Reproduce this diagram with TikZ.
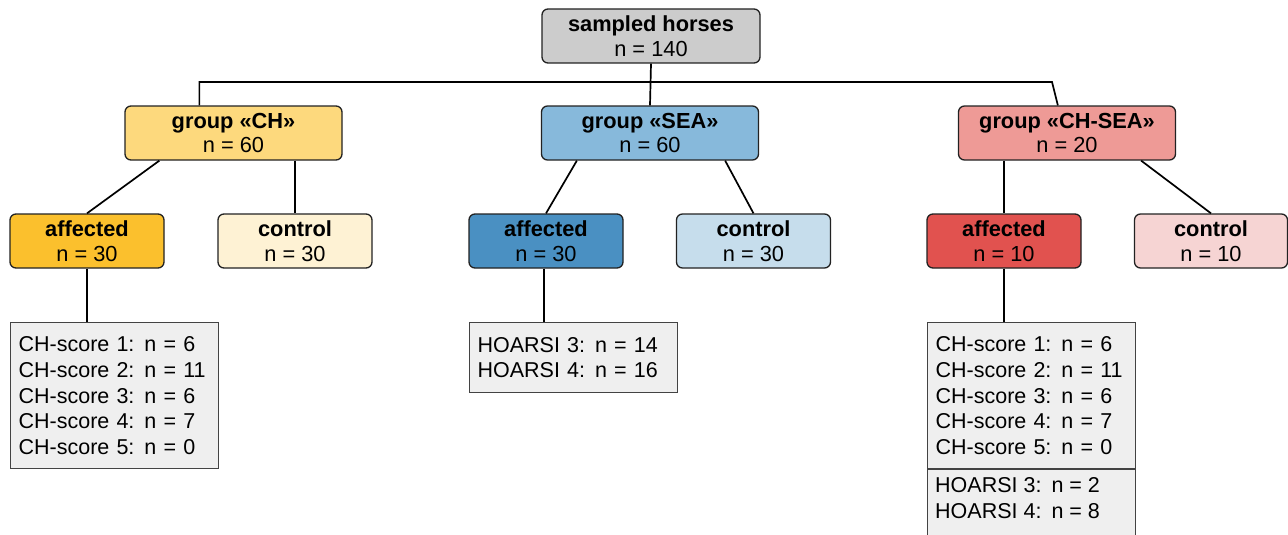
\documentclass[tikz,border=0pt]{standalone}
\usepackage{fontspec}
\setmainfont{Liberation Sans}
\definecolor{cgray}{HTML}{CCCCCC}
\definecolor{cchg}{HTML}{FDD97D}
\definecolor{ccha}{HTML}{FBC02D}
\definecolor{cchc}{HTML}{FEF2D4}
\definecolor{cseag}{HTML}{87B9DB}
\definecolor{cseaa}{HTML}{4A90C2}
\definecolor{cseac}{HTML}{C6DDEC}
\definecolor{cbothg}{HTML}{EE9A96}
\definecolor{cbotha}{HTML}{E1524F}
\definecolor{cbothc}{HTML}{F6D4D3}
\definecolor{clist}{HTML}{EFEFEF}
\definecolor{cedge}{HTML}{222222}
\newcommand{\gp}{\hspace{10pt}}
\begin{document}
\begin{tikzpicture}[x=1pt,y=-1pt,
  hbox/.style={draw=cedge, line width=1.3pt, rounded corners=6pt, minimum height=54pt,
    inner sep=0pt, align=center, font=\fontsize{21.8}{24.5}\selectfont},
  wide/.style={hbox, minimum width=217pt},
  narrow/.style={hbox, minimum width=154pt},
  listbox/.style={draw=cedge!85, line width=1.2pt, fill=clist, anchor=north west,
    inner xsep=8pt, inner ysep=0pt, text width=192pt, align=left,
    font=\fontsize{21.5}{25.8}\selectfont},
  conn/.style={draw=black, line width=1.7pt}
]
\useasboundingbox (0,0) rectangle (1288,535);
\clip (0,0) rectangle (1288,535);

% root
\node[hbox, minimum width=218pt, fill=cgray] (root) at (651,36) {\textbf{sampled horses}\\n = 140};

% groups
\node[wide, fill=cchg] (gch) at (233.5,133) {\textbf{group «CH»}\\n = 60};
\node[wide, fill=cseag] (gsea) at (650,133) {\textbf{group «SEA»}\\n = 60};
\node[wide, fill=cbothg] (gboth) at (1067,133) {\textbf{group «CH-SEA»}\\n = 20};

% affected / control
\node[narrow, fill=ccha] (ach) at (87,241) {\textbf{affected}\\n = 30};
\node[narrow, fill=cchc] (cch) at (295,241) {\textbf{control}\\n = 30};
\node[narrow, fill=cseaa] (asea) at (546,241) {\textbf{affected}\\n = 30};
\node[narrow, fill=cseac] (csea) at (753.5,241) {\textbf{control}\\n = 30};
\node[narrow, fill=cbotha] (aboth) at (1004,241) {\textbf{affected}\\n = 10};
\node[hbox, minimum width=153pt, fill=cbothc] (cboth) at (1211,241) {\textbf{control}\\n = 10};

% lists
\node[listbox, minimum height=146pt] (lch) at (10,322)
  {CH-score 1:\gp n = 6\\CH-score 2:\gp n = 11\\CH-score 3:\gp n = 6\\CH-score 4:\gp n = 7\\CH-score 5:\gp n = 0};
\node[listbox, minimum height=70pt] (lsea) at (469,322)
  {HOARSI 3:\gp n = 14\\HOARSI 4:\gp n = 16};
\node[listbox, minimum height=146pt] (lboth) at (927,322)
  {CH-score 1:\gp n = 6\\CH-score 2:\gp n = 11\\CH-score 3:\gp n = 6\\CH-score 4:\gp n = 7\\CH-score 5:\gp n = 0};
\node[listbox, minimum height=100pt, anchor=north west] (lboth2) at (lboth.south west) {};
\node[anchor=north west, inner xsep=8pt, inner ysep=8pt, align=left,
  font=\fontsize{21.5}{25.8}\selectfont] (lboth2t) at (lboth2.north west)
  {HOARSI 3:\gp n = 2\\HOARSI 4:\gp n = 8};

% connectors
\coordinate (jr) at (1052,82);
\draw[conn] (root.south) -- (gsea.north);
\draw[conn] ([xshift=75pt]gch.north west) |- (jr) -- ([xshift=100pt]gboth.north west);

\draw[conn] ([xshift=35pt]gch.south west) -- (ach.north);
\draw[conn] (cch.north |- gch.south) -- (cch.north);
\draw[conn] ([xshift=36pt]gsea.south west) -- (asea.north);
\draw[conn] ([xshift=-34pt]gsea.south east) -- (csea.north);
\draw[conn] (aboth.north |- gboth.south) -- (aboth.north);
\draw[conn] ([xshift=-35pt]gboth.south east) -- (cboth.north);

\draw[conn] (ach.south) -- (ach.south |- lch.north);
\draw[conn] ([xshift=-2pt]asea.south) -- ([xshift=-2pt]asea.south |- lsea.north);
\draw[conn] (aboth.south) -- (aboth.south |- lboth.north);
\end{tikzpicture}
\end{document}
